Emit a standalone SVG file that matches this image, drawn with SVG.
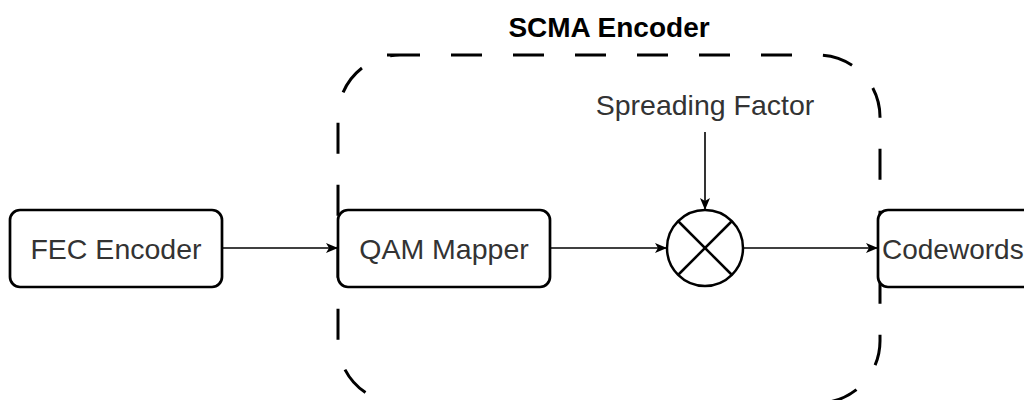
<svg xmlns="http://www.w3.org/2000/svg" width="1024" height="400" viewBox="0 0 1024 400">
<defs>
<style>
.box{fill:#fff;stroke:#000;stroke-width:2.7}
.lbl{font-family:"Liberation Sans",Arial,sans-serif;font-size:28.5px;fill:#333}
.edge{stroke:#000;stroke-width:1.6;fill:none}
</style>
<marker id="arr" viewBox="0 0 12 10" refX="11" refY="5" markerWidth="12" markerHeight="10" markerUnits="userSpaceOnUse" orient="auto">
<path d="M0,0 L12,5 L0,10 L3,5 Z" fill="#000"/>
</marker>
</defs>
<rect width="1024" height="400" fill="#fff"/>
<g id="scma-encoder">
<path d="M387,55 H818 A62,62 0 0 1 880,117 V341 A62,62 0 0 1 818,403 H400 A62,62 0 0 1 338,341 V117 A62,62 0 0 1 400,55 Z" fill="none" stroke="#000" stroke-width="3" stroke-dasharray="31 31" stroke-dashoffset="-2"/>
<text x="609" y="37" text-anchor="middle" font-family="Liberation Sans,Arial,sans-serif" font-size="28" font-weight="bold" fill="#000">SCMA Encoder</text>
</g>
<g id="fec-encoder">
<rect class="box" x="10" y="210" width="212" height="77" rx="10"/>
<text class="lbl" x="116" y="259" text-anchor="middle">FEC Encoder</text>
</g>
<g id="qam-mapper">
<rect class="box" x="338" y="210" width="212" height="77" rx="10"/>
<text class="lbl" x="444" y="259" text-anchor="middle">QAM Mapper</text>
</g>
<g id="multiplier">
<circle cx="705" cy="248" r="38" fill="#fff" stroke="#000" stroke-width="2.5"/>
<line x1="678" y1="221" x2="732" y2="275" stroke="#000" stroke-width="2.5"/>
<line x1="732" y1="221" x2="678" y2="275" stroke="#000" stroke-width="2.5"/>
</g>
<g id="spreading-factor">
<text class="lbl" x="705" y="115" text-anchor="middle">Spreading Factor</text>
</g>
<g id="codewords">
<rect class="box" x="878" y="210" width="212" height="77" rx="10"/>
<text class="lbl" x="882" y="259" style="font-size:28px">Codewords</text>
</g>
<g id="connectors">
<line class="edge" x1="222" y1="248" x2="337" y2="248" marker-end="url(#arr)"/>
<line class="edge" x1="550" y1="248" x2="666" y2="248" marker-end="url(#arr)"/>
<line class="edge" x1="743" y1="248" x2="877" y2="248" marker-end="url(#arr)"/>
<line class="edge" x1="705" y1="132" x2="705" y2="209" marker-end="url(#arr)"/>
</g>
</svg>
